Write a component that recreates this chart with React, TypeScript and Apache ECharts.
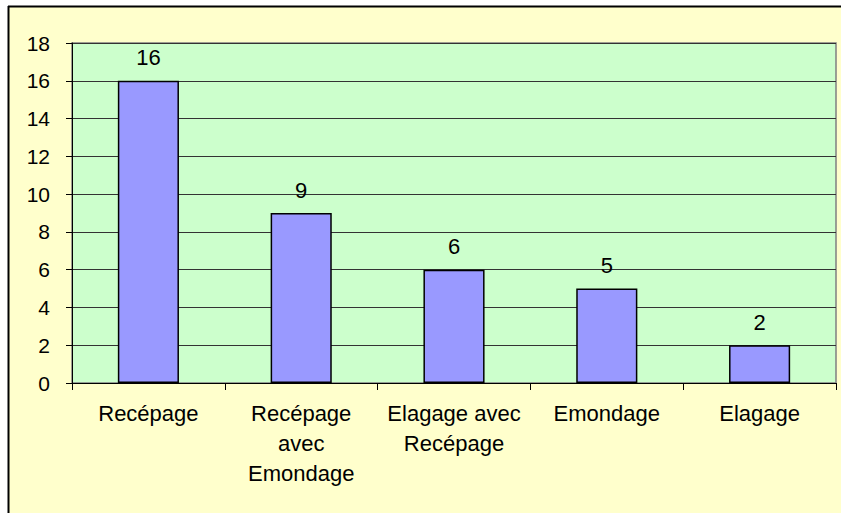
import React, { useEffect, useRef } from "react";
import * as echarts from "echarts";

const categories = [
  "Recépage",
  "Recépage\navec\nEmondage",
  "Elagage avec\nRecépage",
  "Emondage",
  "Elagage",
];
const values = [16, 9, 6, 5, 2];
const yMin = 0;
const yMax = 18;
const yInterval = 2;

const FONT = "'Liberation Sans', Arial, sans-serif";

export default function App() {
  const ref = useRef<HTMLDivElement>(null);
  useEffect(() => {
    document.body.style.margin = "0";
    if (!ref.current) return;
    const chart = echarts.init(ref.current, undefined, { renderer: "svg" });
    chart.setOption({
      animation: false,
      backgroundColor: "#FFFFCC",
      textStyle: { fontFamily: FONT },
      graphic: [
        { type: "rect", shape: { x: 0, y: 0, width: 841, height: 6 }, style: { fill: "#ffffff" }, silent: true },
        { type: "rect", shape: { x: 0, y: 0, width: 8, height: 513 }, style: { fill: "#ffffff" }, silent: true },
        { type: "line", shape: { x1: 8, y1: 6.5, x2: 841, y2: 6.5 }, style: { stroke: "#000", lineWidth: 2 }, silent: true },
        { type: "line", shape: { x1: 8.5, y1: 6, x2: 8.5, y2: 513 }, style: { stroke: "#000", lineWidth: 2 }, silent: true },
      ],
      grid: {
        left: 72,
        top: 43,
        width: 764,
        height: 340,
        show: true,
        backgroundColor: "#CCFFCC",
        borderColor: "#808080",
        borderWidth: 1.5,
        containLabel: false,
      },
      xAxis: {
        type: "category",
        data: categories,
        boundaryGap: true,
        axisLine: { show: true, lineStyle: { color: "#000", width: 1 } },
        axisTick: { show: true, interval: 0, length: 7, lineStyle: { color: "#000" } },
        axisLabel: {
          interval: 0,
          margin: 15,
          fontSize: 22,
          lineHeight: 30,
          color: "#000",
          fontFamily: FONT,
        },
        splitLine: { show: false },
      },
      yAxis: {
        type: "value",
        min: yMin,
        max: yMax,
        interval: yInterval,
        axisLine: { show: true, lineStyle: { color: "#000", width: 1 } },
        axisTick: { show: true, length: 6, lineStyle: { color: "#000" } },
        axisLabel: { margin: 22, fontSize: 21, color: "#000", fontFamily: FONT },
        splitLine: { show: true, lineStyle: { color: "#333", width: 1 } },
      },
      series: [
        {
          type: "bar",
          data: values,
          barWidth: "40%",
          itemStyle: { color: "#9999FF", borderColor: "#000", borderWidth: 1.5 },
          label: {
            show: true,
            position: "top",
            distance: 12,
            fontSize: 22,
            color: "#000",
            fontFamily: FONT,
          },
        },
      ],
    });
    return () => chart.dispose();
  }, []);
  return <div ref={ref} style={{ width: 841, height: 513 }} />;
}
